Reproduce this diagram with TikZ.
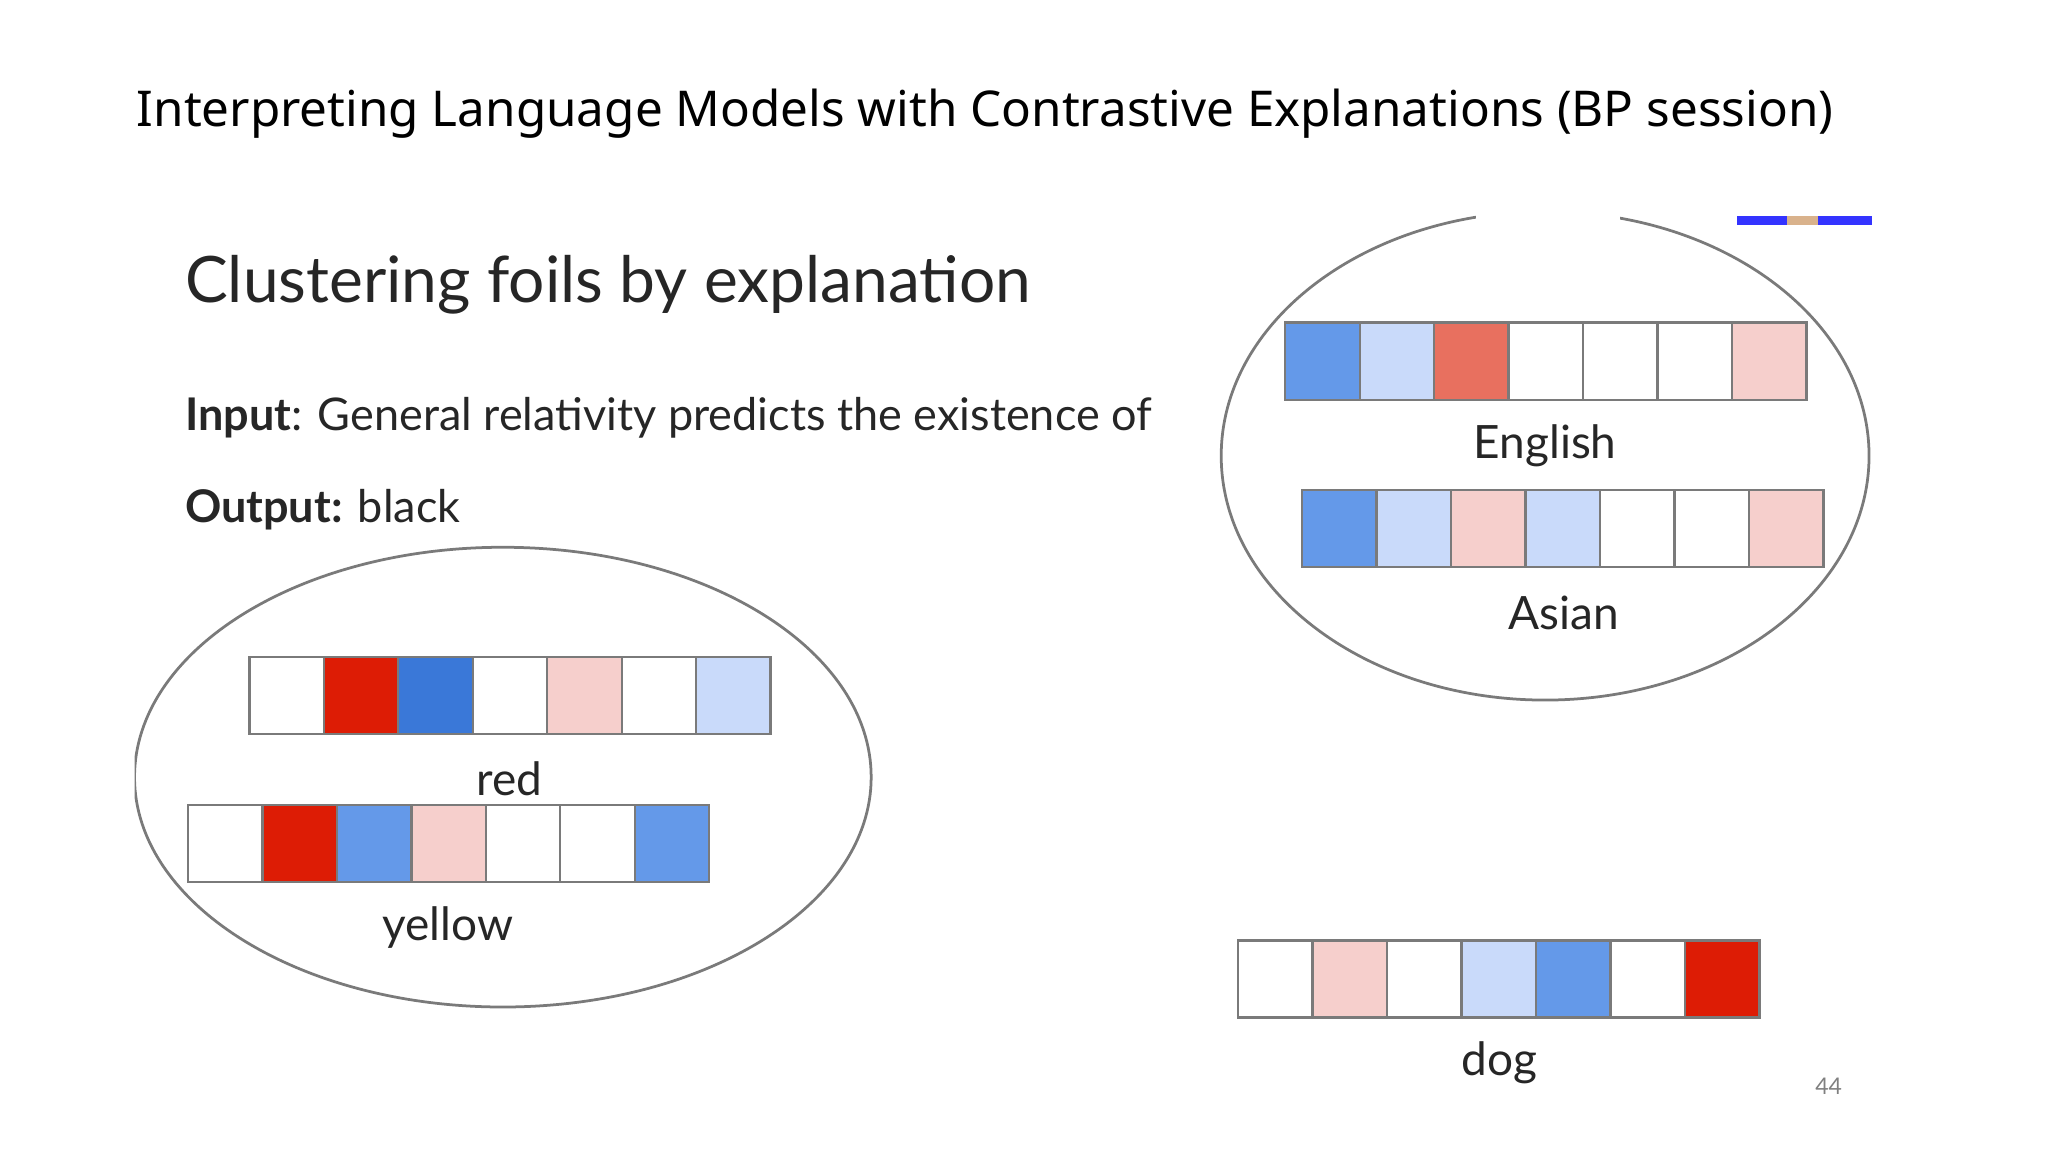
\documentclass[tikz,border=0pt]{standalone}
\usepackage{fontspec}
\setmainfont{Lato}
\newfontfamily\titlefont{Noto Sans}
\definecolor{cR}{HTML}{DD1C05}
\definecolor{cB}{HTML}{3A78D8}
\definecolor{cM}{HTML}{6499E9}
\definecolor{cL}{HTML}{C9DAFA}
\definecolor{cP}{HTML}{F6CFCC}
\definecolor{cS}{HTML}{E8705F}
\definecolor{cW}{HTML}{FFFFFF}
\definecolor{edge}{HTML}{7A7A7A}
\tikzset{
  cell/.style={draw=edge, line width=0.5pt, minimum width=0.57cm, minimum height=0.59cm, inner sep=0pt, outer sep=0pt},
  lbl/.style={font=\fontsize{10}{12}\selectfont, text=black!85},
  oval/.style={draw=edge, line width=0.6pt}
}
\newcommand{\cellrow}[4]{% name, x, y(center), colors
  \foreach \c [count=\i] in {#4} {
    \node[cell, fill=\c] (#1\i) at ({#2+28.5+57*(\i-1)}, #3) {};
  }
}
\begin{document}
\begin{tikzpicture}[x=0.01cm,y=-0.01cm]
\useasboundingbox (0,0) rectangle (1568,882);
\fill[white] (0,0) rectangle (1568,882);
\node[font=\titlefont\fontsize{10.75}{13}\selectfont, anchor=west, inner sep=0pt] (title) at (104,87) {Interpreting Language Models with Contrastive Explanations (BP session)};
\node[font=\fontsize{13.95}{16}\selectfont, anchor=west, text=black!85, inner sep=0pt] (head) at (141,218) {Clustering foils by explanation};
\node[font=\fontsize{9.8}{11}\selectfont, anchor=west, text=black!85, inner sep=0pt] (inp) at (141,320) {\textbf{Input}: General relativity predicts the existence of};
\node[font=\fontsize{9.8}{11}\selectfont, anchor=west, text=black!85, inner sep=0pt] (out) at (141,390) {\textbf{Output:} black};
\begin{scope}
\clip (103,0) rectangle (1568,882);
\draw[oval] (385,595) ellipse [x radius=282, y radius=176];
\end{scope}
\draw[oval] (1183,349) ellipse [x radius=248, y radius=187];
\fill[white] (1130,155) rectangle (1240,170);
\cellrow{r}{191}{532.5}{cW,cR,cB,cW,cP,cW,cL}
\node[lbl] (tred) at (390,596) {red};
\cellrow{y}{144}{646}{cW,cR,cM,cP,cW,cW,cM}
\node[lbl] (tyel) at (343,710) {yellow};
\cellrow{e}{984}{276.5}{cM,cL,cS,cW,cW,cW,cP}
\node[lbl] (teng) at (1183,341) {English};
\cellrow{a}{997}{404.5}{cM,cL,cP,cL,cW,cW,cP}
\node[lbl] (tasi) at (1197,469) {Asian};
\cellrow{d}{948}{749.5}{cW,cP,cW,cL,cM,cW,cR}
\node[lbl] (tdog) at (1148,814) {dog};
\node[font=\fontsize{5}{6}\selectfont, text=black!50] (pg) at (1400,832) {44};
\fill[blue!80] (1330,165) rectangle (1433,172);
\fill[brown!60] (1368,165) rectangle (1392,172);
\end{tikzpicture}
\end{document}
